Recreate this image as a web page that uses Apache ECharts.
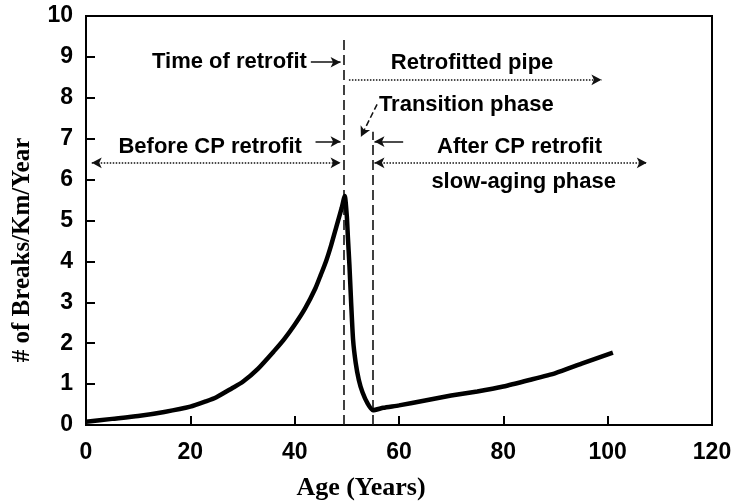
<!DOCTYPE html>
<html>
<head>
<meta charset="utf-8">
<script src="https://cdn.jsdelivr.net/npm/echarts@6/dist/echarts.min.js"></script>
<style>html,body{margin:0;padding:0;background:#fff}#c{width:736px;height:503px}</style>
</head>
<body>
<div id="c"></div>
<script>
// Age (years) and breaks/km/year
var ageValues = [0, 5, 10, 15, 20, 23, 25, 28, 30, 33, 36, 38, 40, 42, 44, 45, 46, 47, 48, 49, 49.6,
  50, 50.2, 50.5, 50.8, 51.2, 51.7, 52.3, 53, 54, 55,
  57, 60, 65, 70, 75, 80, 85, 90, 95, 101];
var breakValues = [0.08, 0.15, 0.22, 0.32, 0.45, 0.58, 0.68, 0.9, 1.05, 1.38, 1.8, 2.1, 2.45, 2.85, 3.35, 3.67, 4.0, 4.4, 4.85, 5.3, 5.6,
  5.1, 4.6, 3.9, 3.06, 2.08, 1.52, 1.1, 0.8, 0.52, 0.36,
  0.42, 0.48, 0.6, 0.72, 0.82, 0.94, 1.1, 1.27, 1.5, 1.77];
var xTicks = [0, 20, 40, 60, 80, 100, 120];
var yTicks = [0, 1, 2, 3, 4, 5, 6, 7, 8, 9, 10];

// vertical phase boundaries: [age, top value]
var boundaries = [[49.4, 9.5], [54.9, 7.17]];

// annotation texts: [age, value, text]
var notes = [
  [27.5, 8.87, 'Time of retrofit'],
  [23.8, 6.80, 'Before CP retrofit'],
  [74.0, 8.85, 'Retrofitted pipe'],
  [72.9, 7.82, 'Transition phase'],
  [83.1, 6.80, 'After CP retrofit'],
  [83.9, 5.94, 'slow-aging phase']
];
// arrows: [x1, y1, x2, y2, startHead, endHead, style]
var arrows = [
  [43.1, 8.87, 48.8, 8.87, 0, 1, 'solid'],
  [44.0, 6.93, 48.8, 6.93, 0, 1, 'solid'],
  [1.1, 6.41, 48.8, 6.41, 1, 1, 'dotted'],
  [50.4, 8.44, 98.8, 8.44, 0, 1, 'dotted'],
  [55.8, 7.84, 52.7, 7.05, 0, 1, 'dashed'],
  [60.8, 6.93, 55.3, 6.93, 0, 1, 'solid'],
  [55.3, 6.41, 107.5, 6.41, 1, 1, 'dotted']
];

var curve = ageValues.map(function (a, i) { return [a, breakValues[i]]; });

var arrowLines = arrows.map(function (a) {
  return [
    { coord: [a[0], a[1]], symbol: a[4] ? 'arrow' : 'none', symbolSize: [8, 10] },
    { coord: [a[2], a[3]], symbol: a[5] ? 'arrow' : 'none', symbolSize: [8, 10],
      lineStyle: { type: a[6], width: 1.5, curveness: a[6] === 'dashed' ? 0.25 : 0, color: '#111' } }
  ];
});

var boundaryLines = boundaries.map(function (b) {
  return [{ coord: [b[0], 0], symbol: 'none' }, { coord: [b[0], b[1]], symbol: 'none' }];
});

var sans = '"Liberation Sans", Arial, sans-serif';
var serif = '"Liberation Serif", "Times New Roman", serif';

var chart = echarts.init(document.getElementById('c'), null, { renderer: 'canvas' });
chart.setOption({
  animation: false,
  backgroundColor: '#fff',
  grid: { left: 86, right: 24, top: 16, bottom: 78, show: true, borderColor: '#000', borderWidth: 2, containLabel: false },
  xAxis: {
    type: 'value', min: xTicks[0], max: xTicks[xTicks.length - 1], interval: 20,
    axisLine: { show: true, onZero: false, lineStyle: { color: '#000', width: 2 } },
    axisTick: { show: true, inside: true, length: 9, lineStyle: { color: '#000', width: 2 } },
    axisLabel: { color: '#000', fontFamily: sans, fontWeight: 'bold', fontSize: 23, margin: 16 },
    splitLine: { show: false }
  },
  yAxis: {
    type: 'value', min: yTicks[0], max: yTicks[yTicks.length - 1], interval: 1,
    axisLine: { show: true, onZero: false, lineStyle: { color: '#000', width: 2 } },
    axisTick: { show: true, inside: true, length: 9, lineStyle: { color: '#000', width: 2 } },
    axisLabel: { color: '#000', fontFamily: sans, fontWeight: 'bold', fontSize: 23, margin: 13 },
    splitLine: { show: false }
  },
  graphic: [
    { type: 'text', x: 361, y: 488, style: { text: 'Age (Years)', font: 'bold 26px ' + serif, fill: '#000', align: 'center', verticalAlign: 'middle' } },
    { type: 'text', x: 23, y: 250, rotation: Math.PI / 2, style: { text: '# of Breaks/Km/Year', font: 'bold 25px ' + serif, fill: '#000', align: 'center', verticalAlign: 'middle' } }
  ],
  series: [
    {
      type: 'line', data: curve, showSymbol: false, smooth: 0.2,
      lineStyle: { color: '#000', width: 4.5 }, z: 5,
      markLine: {
        silent: true, symbol: 'none', animation: false,
        label: { show: false },
        lineStyle: { type: [10, 5], color: '#111', width: 1.6 },
        data: boundaryLines
      }
    },
    {
      type: 'scatter', data: [], silent: true,
      markLine: {
        silent: true, animation: false, label: { show: false },
        lineStyle: { color: '#111' },
        data: arrowLines
      }
    },
    {
      type: 'scatter', symbolSize: 0, silent: true,
      itemStyle: { opacity: 1 },
      data: notes.map(function (n) { return { value: [n[0], n[1]], name: n[2] }; }),
      label: {
        show: true, position: 'inside', formatter: '{b}', color: '#000',
        fontFamily: sans, fontWeight: 'bold', fontSize: 22
      }
    }
  ]
});
</script>
</body>
</html>
